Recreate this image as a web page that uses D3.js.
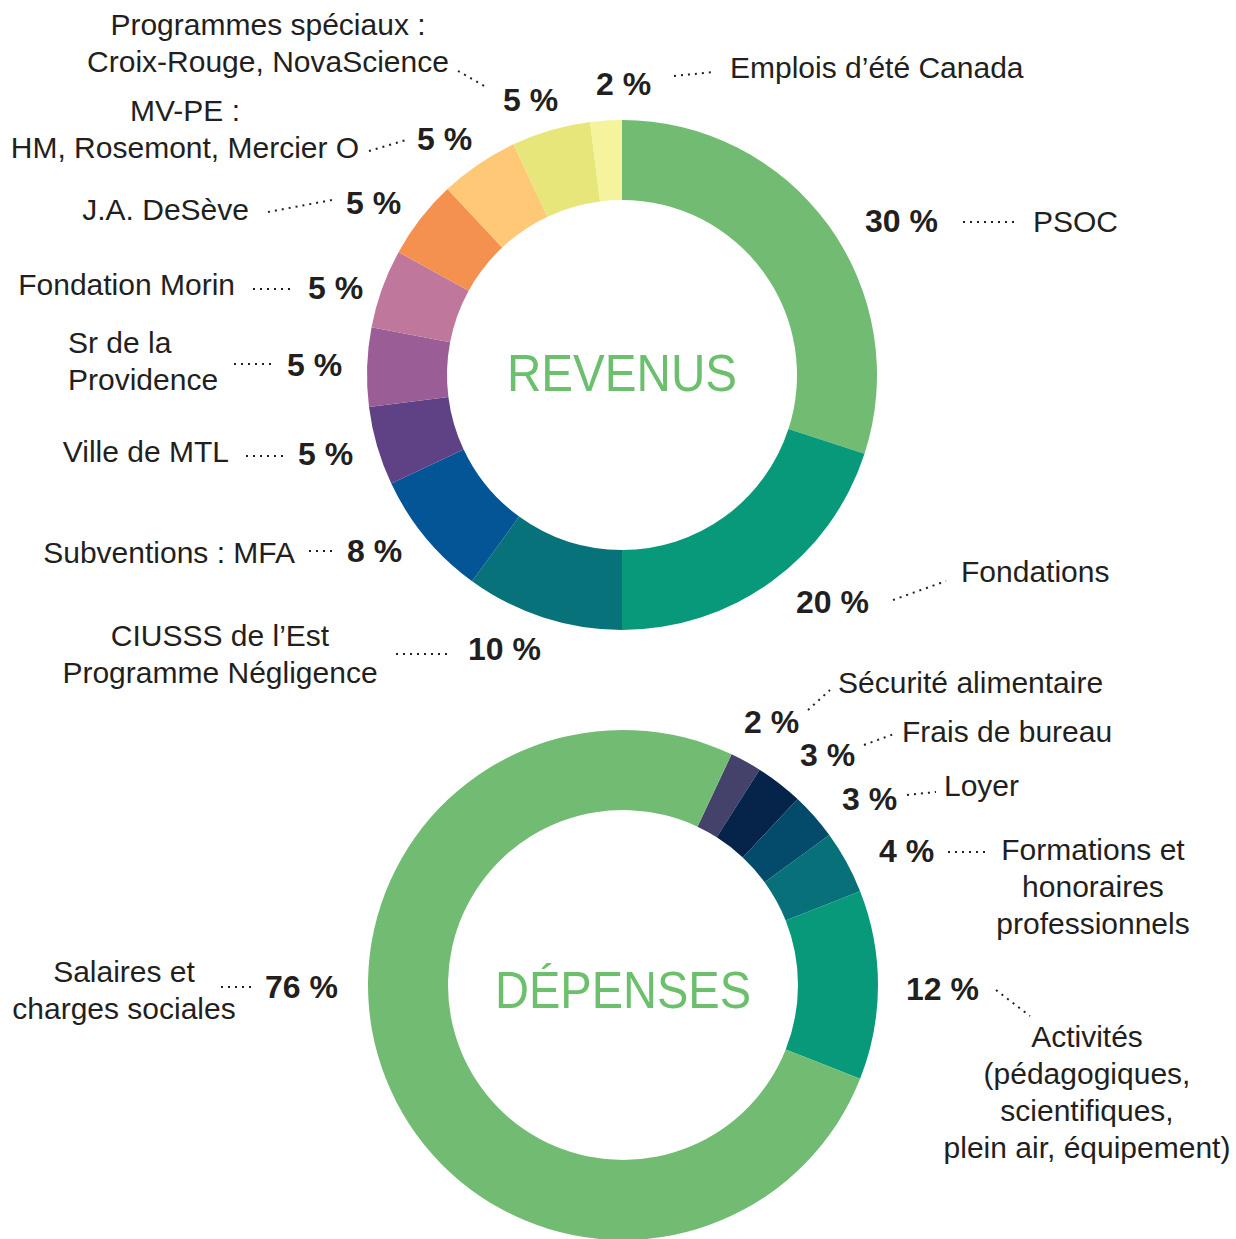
<!DOCTYPE html>
<html>
<head>
<meta charset="utf-8">
<script src="https://cdn.jsdelivr.net/npm/d3@7"></script>
<style>
  body { margin: 0; background: #fff; }
  svg text { font-family: "Liberation Sans", Arial, sans-serif; fill: #231f20; }
  .pct { font-weight: bold; }
</style>
</head>
<body>
<div id="chart-area"></div>
<script>

// Revenus (top donut), clockwise from 12 o'clock
let revLabels = ["PSOC", "Fondations", "CIUSSS de l’Est|Programme Négligence", "Subventions : MFA",
    "Ville de MTL", "Sr de la|Providence", "Fondation Morin", "J.A. DeSève",
    "MV-PE :|HM, Rosemont, Mercier O", "Programmes spéciaux :|Croix-Rouge, NovaScience", "Emplois d’été Canada"];
let revValues = [30, 20, 10, 8, 5, 5, 5, 5, 5, 5, 2];
let revColors = ["#72bb73", "#08987a", "#08727a", "#045596", "#5f4185", "#9b5d96",
    "#bf779b", "#f5914f", "#fec877", "#e6e67a", "#f5f39b"];

// Dépenses (bottom donut)
let depLabels = ["Sécurité alimentaire", "Frais de bureau", "Loyer", "Formations et|honoraires|professionnels",
    "Activités|(pédagogiques,|scientifiques,|plein air, équipement)", "Salaires et|charges sociales"];
let depValues = [2, 3, 3, 4, 12, 76];
let depColors = ["#44416b", "#06244a", "#044a6a", "#077079", "#08987a", "#72bb73"];

let width = 1236, height = 1239;

let svg = d3.select("#chart-area").append("svg")
    .attr("width", width)
    .attr("height", height);

let outerR = 255, innerR = 175;
let arc = d3.arc().innerRadius(innerR).outerRadius(outerR);

function donut(cx, cy, values, colors, offset, title, ty, tw) {
	let pie = d3.pie().sort(null)
		.startAngle(offset * 2 * Math.PI)
		.endAngle((1 + offset) * 2 * Math.PI);

	let g = svg.append("g")
		.attr("transform", "translate(" + cx + "," + cy + ")");

	g.selectAll("path")
		.data(pie(values))
		.enter().append("path")
		.attr("d", arc)
		.attr("fill", (d, i) => colors[i]);

	// condensed look for the centre title
	g.append("text")
		.attr("text-anchor", "middle")
		.attr("y", ty)
		.attr("textLength", tw)
		.attr("lengthAdjust", "spacingAndGlyphs")
		.style("font-size", "52px")
		.style("fill", "#6cbf6c")
		.text(title);
}

donut(622, 375, revValues, revColors, 0, "REVENUS", 16, 230);
donut(623, 985, depValues, depColors, 0.07, "DÉPENSES", 23, 256);

// label layout: pct position (left x, baseline), dotted leader, name block
// anchor: start/middle/end, lines spaced 37px
let revLayout = [
	{px: 865, py: 232, line: [963, 222, 1015, 222], nx: 1033, ny: 232, anchor: "start"},
	{px: 796, py: 613, line: [893, 600, 946, 581], nx: 961, ny: 582, anchor: "start"},
	{px: 468, py: 660, line: [396, 654, 448, 654], nx: 220, ny: 646, anchor: "middle"},
	{px: 347, py: 562, line: [309, 551, 334, 551], nx: 295, ny: 563, anchor: "end"},
	{px: 298, py: 465, line: [246, 456, 284, 456], nx: 229, ny: 462, anchor: "end"},
	{px: 287, py: 376, line: [234, 364, 272, 364], nx: 68, ny: 353, anchor: "start"},
	{px: 308, py: 299, line: [253, 289, 291, 289], nx: 235, ny: 295, anchor: "end"},
	{px: 346, py: 214, line: [268, 212, 332, 200], nx: 249, ny: 220, anchor: "end"},
	{px: 417, py: 150, line: [369, 151, 406, 140], nx: 185, ny: 121, anchor: "middle"},
	{px: 503, py: 111, line: [458, 71, 486, 87], nx: 268, ny: 35, anchor: "middle"},
	{px: 596, py: 95, line: [674, 76, 714, 72], nx: 730, ny: 78, anchor: "start"}
];

let depLayout = [
	{px: 744, py: 733, line: [808, 710, 830, 690], nx: 838, ny: 693, anchor: "start"},
	{px: 800, py: 766, line: [864, 745, 894, 734], nx: 902, ny: 742, anchor: "start"},
	{px: 842, py: 810, line: [907, 795, 936, 792], nx: 944, ny: 796, anchor: "start"},
	{px: 879, py: 862, line: [948, 852, 988, 852], nx: 1093, ny: 860, anchor: "middle"},
	{px: 906, py: 1000, line: [996, 990, 1030, 1016], nx: 1087, ny: 1047, anchor: "middle"},
	{px: 265, py: 998, line: [221, 987, 253, 987], nx: 124, ny: 982, anchor: "middle"}
];

function labels(values, names, layout) {
	let g = svg.append("g");
	let items = g.selectAll("g.lab")
		.data(values.map((v, i) => ({v: v, name: names[i], l: layout[i]})))
		.enter().append("g")
		.attr("class", "lab");

	items.append("text")
		.attr("class", "pct")
		.attr("x", d => d.l.px)
		.attr("y", d => d.l.py)
		.style("font-size", "32px")
		.text(d => d.v + " %");

	items.append("line")
		.attr("x1", d => d.l.line[0])
		.attr("y1", d => d.l.line[1])
		.attr("x2", d => d.l.line[2])
		.attr("y2", d => d.l.line[3])
		.attr("stroke", "#231f20")
		.attr("stroke-width", 2)
		.attr("stroke-dasharray", "2,5");

	items.append("text")
		.attr("x", d => d.l.nx)
		.attr("y", d => d.l.ny)
		.attr("text-anchor", d => d.l.anchor)
		.style("font-size", "30px")
		.selectAll("tspan")
		.data(d => d.name.split("|").map(s => ({s: s, x: d.l.nx})))
		.enter().append("tspan")
		.attr("x", d => d.x)
		.attr("dy", (d, i) => i == 0 ? 0 : 37)
		.text(d => d.s);
}

labels(revValues, revLabels, revLayout);
labels(depValues, depLabels, depLayout);

</script>
</body>
</html>
